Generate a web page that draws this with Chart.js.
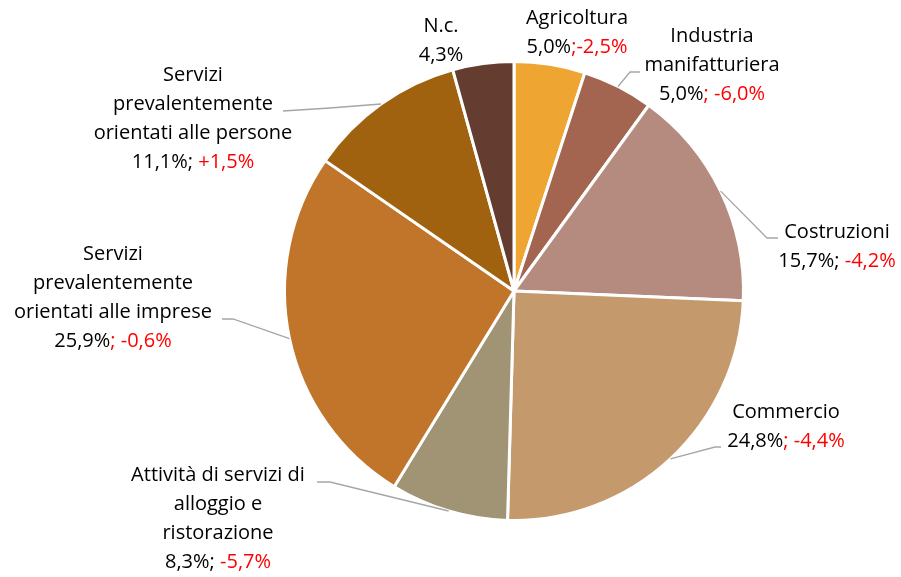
<!DOCTYPE html>
<html>
<head>
<meta charset="utf-8">
<script src="https://cdn.jsdelivr.net/npm/chart.js@4.4.1/dist/chart.umd.min.js"></script>
<style>
html,body{margin:0;padding:0;background:#fff;}
#wrap{width:901px;height:577px;position:relative;}
</style>
</head>
<body>
<div id="wrap"><canvas id="c" width="901" height="577"></canvas></div>
<script>
// ---- data ----
const categories = ["Agricoltura","Industria manifatturiera","Costruzioni","Commercio","Attività di servizi di alloggio e ristorazione","Servizi prevalentemente orientati alle imprese","Servizi prevalentemente orientati alle persone","N.c."];
const shares = [5.0, 5.0, 15.7, 24.8, 8.3, 25.9, 11.1, 4.3];
const changes = ["-2,5%", "-6,0%", "-4,2%", "-4,4%", "-5,7%", "-0,6%", "+1,5%", null];
const colors = ["#EFA531","#A46550","#B58B7F","#C49A6D","#A19474","#C0752B","#A0620E","#643C30"];

// label text lines (category wrapping as in the original)
const labelLines = [
  ["Agricoltura"],
  ["Industria","manifatturiera"],
  ["Costruzioni"],
  ["Commercio"],
  ["Attività di servizi di","alloggio e","ristorazione"],
  ["Servizi","prevalentemente","orientati alle imprese"],
  ["Servizi","prevalentemente","orientati alle persone"],
  ["N.c."]
];
// how the value line separates share and change: [blackSuffix, redPrefix]
const valueSep = [["",";"],["","; "],["; ",""],["","; "],["; ",""],["","; "],["; ",""],["",""]];

// ---- layout of labels (position of label centre of first line, leader elbow/end) ----
const labelPos = [
  {x:577,y:18},
  {x:712,y:36, elbow:[630,72], end:[640,72]},
  {x:837,y:232, elbow:[767,238], end:[778,238]},
  {x:786,y:412, elbow:[715,447], end:[721,447]},
  {x:218,y:475, elbow:[330,482], end:[317,482]},
  {x:113,y:254, elbow:[233,319], end:[222,319]},
  {x:193,y:75, elbow:[330,108], end:[283,111]},
  {x:441,y:26}
];
const lineH = 29;
const FONT = '20px "Open Sans", Lato, sans-serif';

function fmt(v){ return v.toFixed(1).replace('.',',') + '%'; }

const labelPlugin = {
  id:'labels',
  afterDatasetsDraw(chart){
    const ctx = chart.ctx;
    const meta = chart.getDatasetMeta(0);
    ctx.save();
    ctx.font = FONT;
    ctx.textBaseline = 'middle';
    meta.data.forEach((arc, i) => {
      const p = labelPos[i];
      const mid = (arc.startAngle + arc.endAngle)/2;
      if (p.elbow){
        const sx = arc.x + Math.cos(mid)*arc.outerRadius;
        const sy = arc.y + Math.sin(mid)*arc.outerRadius;
        ctx.strokeStyle = '#A6A6A6';
        ctx.lineWidth = 1.3;
        ctx.beginPath();
        ctx.moveTo(sx, sy);
        ctx.lineTo(p.elbow[0], p.elbow[1]);
        ctx.lineTo(p.end[0], p.end[1]);
        ctx.stroke();
      }
      const lines = labelLines[i];
      ctx.textAlign = 'center';
      ctx.fillStyle = '#000';
      lines.forEach((t, k) => ctx.fillText(t, p.x, p.y + k*lineH));
      // value line with coloured change
      const black = fmt(shares[i]) + valueSep[i][0];
      const red = changes[i] ? valueSep[i][1] + changes[i] : '';
      const wb = ctx.measureText(black).width;
      const wr = red ? ctx.measureText(red).width : 0;
      const x0 = p.x - (wb + wr)/2;
      const y = p.y + lines.length*lineH;
      ctx.textAlign = 'left';
      ctx.fillStyle = '#000';
      ctx.fillText(black, x0, y);
      if (red){ ctx.fillStyle = '#FF0000'; ctx.fillText(red, x0 + wb, y); }
    });
    ctx.restore();
  }
};

new Chart(document.getElementById('c'), {
  type:'pie',
  data:{
    labels: categories,
    datasets:[{
      data: shares,
      backgroundColor: colors,
      borderColor:'#FFFFFF',
      borderWidth:3
    }]
  },
  options:{
    responsive:false,
    animation:false,
    layout:{padding:{left:227,right:100,top:60,bottom:55}},
    plugins:{legend:{display:false},tooltip:{enabled:false}}
  },
  plugins:[labelPlugin]
});
</script>
</body>
</html>
